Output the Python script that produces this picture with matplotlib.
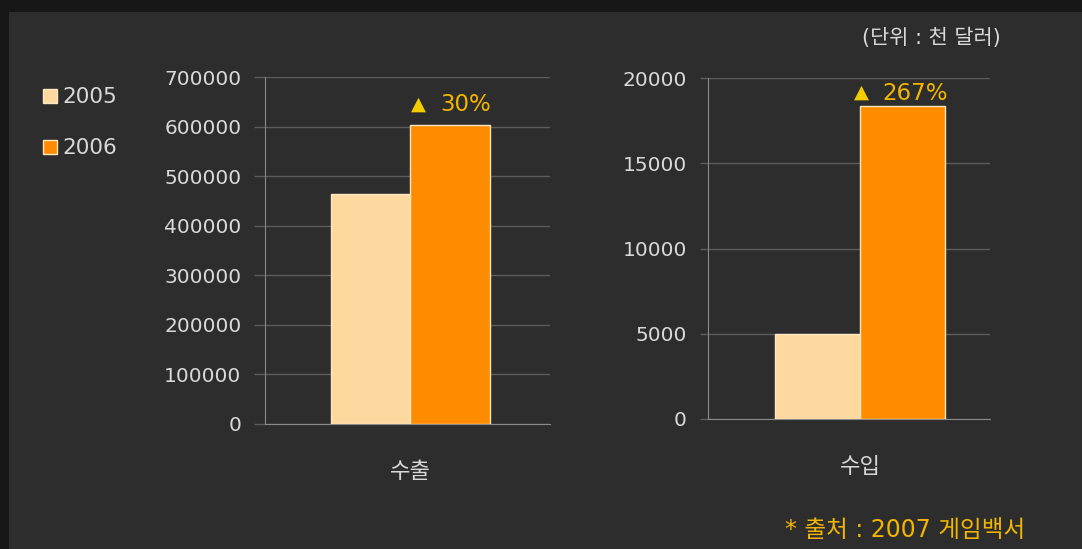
import matplotlib.pyplot as plt
from matplotlib.patches import Rectangle, Patch

plt.rcParams['font.family'] = ['DejaVu Sans', 'Noto Sans CJK KR']
kr = ['Noto Sans CJK KR', 'DejaVu Sans']

years = ["2005", "2006"]
export_vals = [465000, 604000]
import_vals = [5000, 18350]
categories = ["수출", "수입"]
growth = ["30%", "267%"]

bg = "#2d2d2d"
frame = "#171717"
light = "#fdd9a0"
orange = "#ff8c00"
gold = "#f2b600"
tri = "#f0cc00"
txt = "#d9d9d9"
grid = "#5c5c5c"

fig = plt.figure(figsize=(10.82, 5.49), dpi=100, facecolor=frame)
fig.patches.append(Rectangle((9 / 1082, 0), 1, 1 - 12 / 549,
                             transform=fig.transFigure, facecolor=bg,
                             edgecolor="none", zorder=-10))


def draw_panel(rect, vals, ymax, step, cat, pct, width, center, tlen, offs, gap):
    ax = fig.add_axes(rect)
    ax.set_facecolor(bg)
    xs = [center - width / 2, center + width / 2]
    cols = [light, orange]
    for x, v, c in zip(xs, vals, cols):
        ax.bar(x, v, width=width, color=c, edgecolor="#ffe6c0", linewidth=1, zorder=3)
    ax.set_xlim(-1, 1)
    ax.set_ylim(0, ymax)
    ax.set_yticks(range(0, ymax + 1, step))
    ax.yaxis.grid(True, color=grid, linewidth=1)
    ax.set_axisbelow(True)
    for s in ["top", "right"]:
        ax.spines[s].set_visible(False)
    for s in ["left", "bottom"]:
        ax.spines[s].set_color("#8a8a8a")
    ax.tick_params(axis="y", colors=grid, length=tlen, width=1, labelcolor=txt,
                   labelsize=14.5, pad=9)
    ax.set_xticks([center])
    ax.set_xticklabels([cat], color=txt, fontsize=16, family=kr)
    ax.tick_params(axis="x", length=0, pad=26)
    ax.annotate("▲", (xs[1], vals[1]), xytext=(offs[0], gap + 2),
                textcoords="offset points", color=tri, fontsize=14,
                ha="center", va="bottom", zorder=4)
    ax.annotate(pct, (xs[1], vals[1]), xytext=(offs[1], gap),
                textcoords="offset points", color=gold, fontsize=16.5,
                ha="left", va="bottom", zorder=4)
    return ax


draw_panel([0.245, 0.2277, 0.263, 0.632], export_vals, 700000, 100000,
           categories[0], growth[0], 0.56, 0.02, 8, (-23, -7), 6)
draw_panel([0.654, 0.2368, 0.261, 0.621], import_vals, 20000, 5000,
           categories[1], growth[1], 0.6, 0.08, 6, (-29.5, -14.5), 1)

handles = [Patch(facecolor=light, edgecolor="#ffe6c0"),
           Patch(facecolor=orange, edgecolor="#ffe6c0")]
fig.legend(handles, years, loc="upper left", bbox_to_anchor=(0.032, 0.857),
           frameon=False, fontsize=15.5, labelcolor=txt, handlelength=0.62,
           handleheight=0.62, handletextpad=0.25, labelspacing=1.45,
           borderaxespad=0)

fig.text(0.925, 0.931, "(단위 : 천 달러)", color=txt, fontsize=15, ha="right",
         va="center")
fig.text(0.948, 0.035, "* 출처 : 2007 게임백서", color=gold, fontsize=17,
         ha="right", va="center")

fig.savefig("out.png", dpi=100, facecolor=frame)
